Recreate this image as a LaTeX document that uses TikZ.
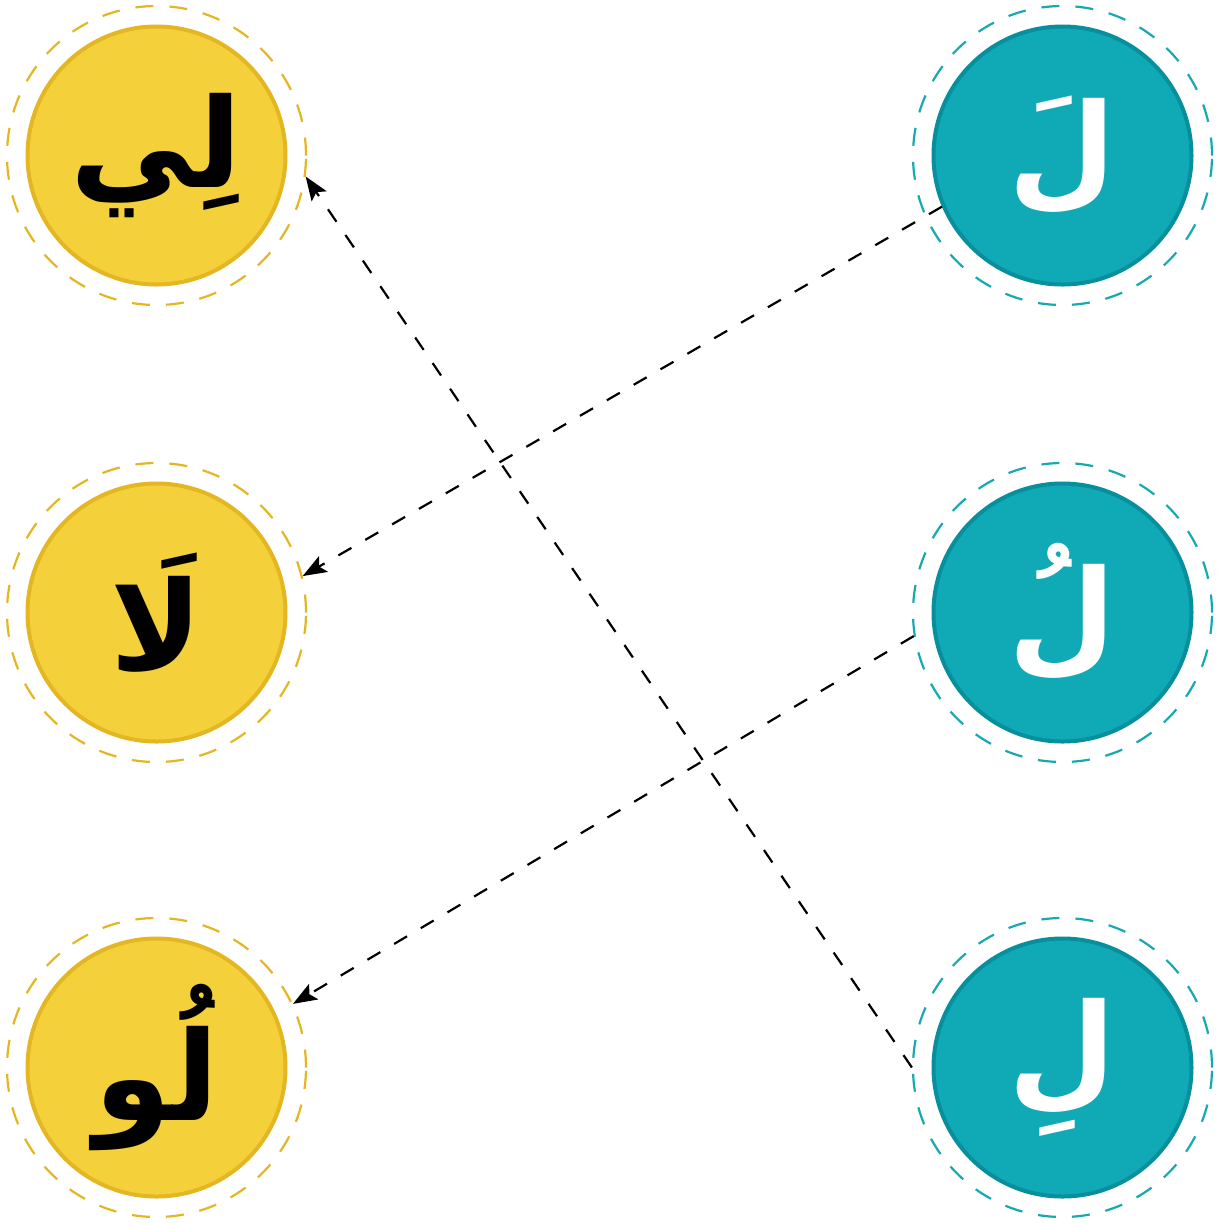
\documentclass[tikz,border=0pt]{standalone}
\usepackage{fontspec}
\usetikzlibrary{arrows.meta}
\TeXXeTstate=1
\newfontfamily\arabicfont[Script=Arabic]{DejaVu Sans}
\definecolor{yfill}{HTML}{F4D13A}
\definecolor{ystroke}{HTML}{E3B622}
\definecolor{tfill}{HTML}{10A9B6}
\definecolor{tstroke}{HTML}{078F9D}
\definecolor{tring}{HTML}{16A9B2}
\begin{document}
\begin{tikzpicture}[x=0.5pt,y=-0.5pt,
  bub/.style={circle,line width=2pt,minimum size=129pt,inner sep=0pt,
    font=\arabicfont\bfseries\fontsize{62}{72}\selectfont},
  ybub/.style={bub,fill=yfill,draw=ystroke,text=black},
  tbub/.style={bub,fill=tfill,draw=tstroke,text=white},
  ring/.style={circle,line width=1.1pt,dash pattern=on 9pt off 8pt,minimum size=149.5pt,inner sep=0pt},
  yring/.style={ring,draw=ystroke},
  tring/.style={ring,draw=tring},
  link/.style={draw=black,line width=1.1pt,dash pattern=on 7.5pt off 8pt,
    -{Stealth[length=12pt,width=9pt,inset=2.5pt]}}
]
\useasboundingbox (0,0) rectangle (1223,1223);
% left column
\node[yring] (ry1) at (156.5,155.5) {};
\node[ybub]  (y1)  at (156.5,155.5) {\raisebox{-5pt}{\beginR لِي\endR}};
\node[yring] (ry2) at (156.5,612.5) {};
\node[ybub]  (y2)  at (156.5,612.5) {\beginR لَا\endR};
\node[yring] (ry3) at (156.5,1067.5) {};
\node[ybub]  (y3)  at (156.5,1067.5) {\beginR لُو\endR};
% right column
\node[tring] (rt1) at (1062.5,155.5) {};
\node[tbub]  (t1)  at (1062.5,155.5) {\beginR لَ\endR};
\node[tring] (rt2) at (1062.5,612.5) {};
\node[tbub]  (t2)  at (1062.5,612.5) {\beginR لُ\endR};
\node[tring] (rt3) at (1062.5,1067.5) {};
\node[tbub]  (t3)  at (1062.5,1067.5) {\beginR لِ\endR};
% connectors
\draw[link] (t1.203) -- (ry2.14.3);
\draw[link] (rt2.189.3) -- (ry3.25.4);
\draw[link] (rt3.180) -- (ry1.352.6);
\end{tikzpicture}
\end{document}
